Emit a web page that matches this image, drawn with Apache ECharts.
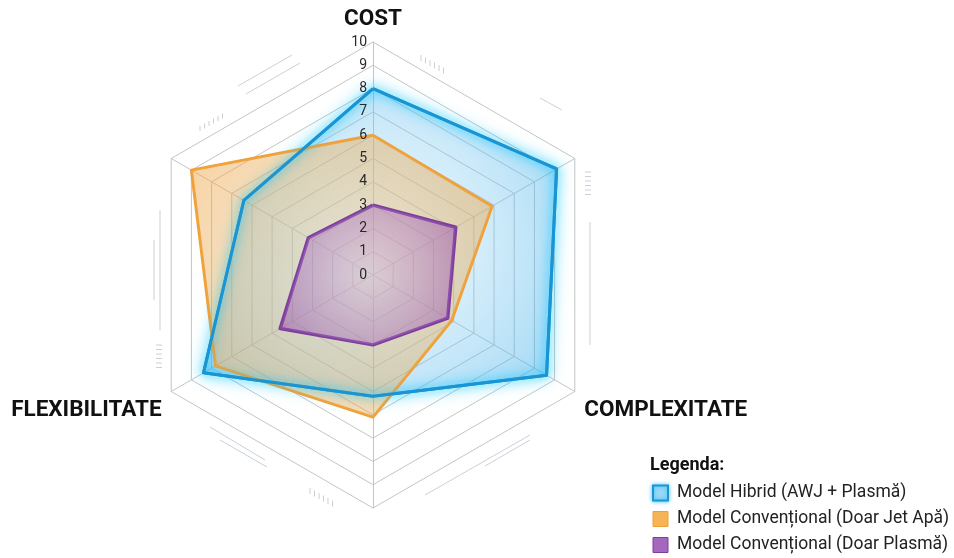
<!DOCTYPE html>
<html>
<head>
<meta charset="utf-8">
<script src="https://cdn.jsdelivr.net/npm/echarts@6/dist/echarts.min.js"></script>
<style>
  html, body { margin: 0; padding: 0; background: #fff; }
  #chart { width: 954px; height: 558px; }
</style>
</head>
<body>
<div id="chart"></div>
<script>
// axe (ordine ECharts: sus, apoi invers acelor de ceasornic)
var axisNames = ['COST', '', 'FLEXIBILITATE', '', 'COMPLEXITATE', ''];
var axisMax = 10;

var seriesNames = [
  'Model Hibrid (AWJ + Plasmă)',
  'Model Convențional (Doar Jet Apă)',
  'Model Convențional (Doar Plasmă)'
];
// valori
var hibridValues = [8, 6.4, 8.4, 5.2, 8.6, 9.1];
var jetValues = [6, 9, 7.8, 6.1, 3.9, 5.9];
var plasmaValues = [3, 3.2, 4.6, 3.0, 3.7, 4.1];

var lineColors = ['#1a94d2', '#f0a038', '#7e3f9c'];

var chart = echarts.init(document.getElementById('chart'));

function radial(c0, c1) {
  return {
    type: 'radial', x: 0.5, y: 0.5, r: 0.7,
    colorStops: [{ offset: 0, color: c0 }, { offset: 1, color: c1 }]
  };
}

var indicators = axisNames.map(function (n) {
  return { name: n, min: 0, max: axisMax };
});
// al doilea radar doar pentru etichetele 0..10, desenat deasupra
var labelIndicators = axisNames.map(function (n, i) {
  var ind = { name: '', min: 0, max: axisMax };
  if (i === 0) ind.axisLabel = { show: true };
  return ind;
});

// decor fin in jurul hexagonului
var deco = '#c9d1d8';
function ln(x1, y1, x2, y2) {
  return { type: 'line', shape: { x1: x1, y1: y1, x2: x2, y2: y2 }, style: { stroke: deco, lineWidth: 1 }, silent: true };
}
function hatch(x, y, dx, dy, n, ox, oy) {
  var out = [];
  for (var k = 0; k < n; k++) out.push(ln(x + k * ox, y + k * oy, x + k * ox + dx, y + k * oy + dy));
  return out;
}
var graphics = [].concat(
  hatch(421, 55, 0, 6, 6, 4.5, 2.5),
  hatch(200, 126, 0, 5, 6, 4.5, -2.5),
  hatch(156, 345, 6, 0, 6, 0, 4.5),
  hatch(585, 172, 6, 0, 6, 0, 4.5),
  hatch(310, 488, 0, 6, 6, 4.5, 2.5),
  [
    ln(238, 86, 292, 55), ln(246, 94, 300, 63),
    ln(160, 210, 160, 330), ln(154, 240, 154, 300),
    ln(590, 222, 590, 345),
    ln(210, 427, 265, 460), ln(220, 440, 267, 467),
    ln(425, 495, 530, 435), ln(485, 466, 530, 440),
    ln(540, 98, 562, 110)
  ]
);

var nameFont = { fontFamily: 'Roboto', fontWeight: 'bold', fontSize: 22.5, color: '#111' };

chart.setOption({
  title: {
    text: 'Legenda:',
    left: 650, top: 456, padding: 0,
    textStyle: { fontFamily: 'Roboto', fontWeight: 'bold', fontSize: 18, color: '#111' }
  },
  legend: {
    orient: 'vertical',
    left: 652, top: 484, padding: 0,
    itemWidth: 15, itemHeight: 15, itemGap: 8,
    textStyle: { fontFamily: 'Roboto', fontSize: 17.5, color: '#222', padding: [0, 0, 0, 4] },
    data: [
      { name: seriesNames[0], icon: 'rect', itemStyle: { color: '#9ad8f6', borderColor: '#1b95d4', borderWidth: 2, shadowBlur: 4, shadowColor: 'rgba(0,180,255,0.7)' } },
      { name: seriesNames[1], icon: 'rect', itemStyle: { color: '#f6b457', borderColor: '#f0a038', borderWidth: 1 } },
      { name: seriesNames[2], icon: 'rect', itemStyle: { color: '#a468bd', borderColor: '#7e3f9c', borderWidth: 1 } }
    ]
  },
  radar: [
    {
      center: [373, 275],
      radius: 233,
      startAngle: 90,
      splitNumber: 10,
      shape: 'polygon',
      nameGap: 11,
      axisName: {
        formatter: function (name, ind) {
          return name === 'COST' ? '{t|' + name + '}' : '{b|' + name + '}';
        },
        rich: {
          t: nameFont,
          b: echarts.util.extend({ padding: [27, 0, 0, 0] }, nameFont)
        }
      },
      axisLine: { lineStyle: { color: '#c4c4c4', width: 1 } },
      splitLine: { lineStyle: { color: '#c4c4c4', width: 1 } },
      splitArea: { show: false },
      axisTick: { show: false },
      axisLabel: { show: false },
      indicator: indicators
    },
    {
      z: 10,
      center: [373, 275],
      radius: 233,
      startAngle: 90,
      splitNumber: 10,
      shape: 'polygon',
      axisName: { show: false },
      axisLine: { show: false },
      splitLine: { show: false },
      splitArea: { show: false },
      axisTick: { show: false },
      axisLabel: { show: false, fontFamily: 'Roboto', fontSize: 14, color: '#2a2a2a', margin: 6 },
      indicator: labelIndicators
    }
  ],
  graphic: graphics,
  series: [
    {
      // suprafete
      type: 'radar',
      radarIndex: 0,
      symbol: 'none',
      data: [
        { name: seriesNames[0], value: hibridValues,
          lineStyle: { color: lineColors[0], width: 3, shadowBlur: 16, shadowColor: 'rgba(0,200,255,0.95)' },
          areaStyle: { color: radial('rgba(185,225,245,0.35)', 'rgba(55,172,235,0.65)') } },
        { name: seriesNames[1], value: jetValues,
          lineStyle: { color: lineColors[1], width: 3 },
          areaStyle: { color: radial('rgba(215,190,135,0.5)', 'rgba(244,162,60,0.68)') } },
        { name: seriesNames[2], value: plasmaValues,
          lineStyle: { color: lineColors[2], width: 3.5 },
          areaStyle: { color: radial('rgba(205,175,220,0.55)', 'rgba(150,78,175,0.72)') } }
      ]
    },
    {
      // conturul albastru peste suprafata portocalie
      type: 'radar',
      radarIndex: 0,
      symbol: 'none',
      silent: true,
      data: [
        { name: seriesNames[0], value: hibridValues,
          lineStyle: { color: lineColors[0], width: 3, shadowBlur: 10, shadowColor: 'rgba(0,200,255,0.8)' } }
      ]
    }
  ]
});
</script>
</body>
</html>
